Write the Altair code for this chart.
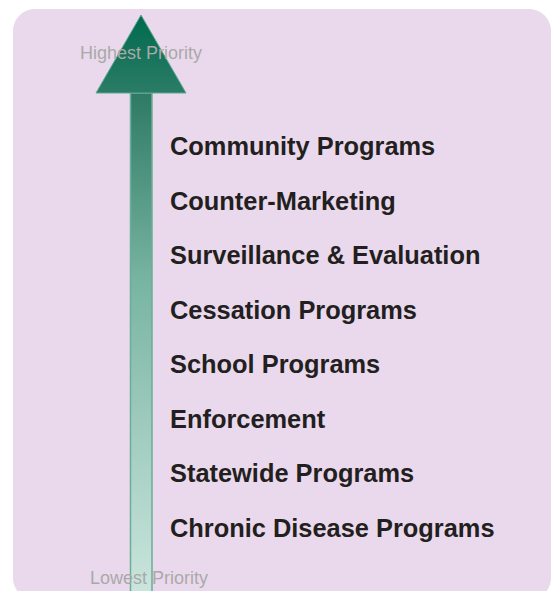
import altair as alt
import pandas as pd

# ---- data ----
labels = [
    "Community Programs",
    "Counter-Marketing",
    "Surveillance & Evaluation",
    "Cessation Programs",
    "School Programs",
    "Enforcement",
    "Statewide Programs",
    "Chronic Disease Programs",
]
ranks = [8, 7, 6, 5, 4, 3, 2, 1]
end_labels = ["Highest Priority", "Lowest Priority"]

# ---- layout (chart units: x in px, y in priority rank units) ----
W, H = 543, 583
Y_TOP, Y_BOTTOM = 10.529, -0.154

xs = alt.Scale(domain=[0, W], nice=False, zero=False)
ys = alt.Scale(domain=[Y_BOTTOM, Y_TOP], nice=False, zero=False)

def X(f="x"):
    return alt.X(f"{f}:Q", scale=xs, axis=None)

def Y(f="y"):
    return alt.Y(f"{f}:Q", scale=ys, axis=None)

bg_df = pd.DataFrame({"x": [5], "x2": [543], "y": [10.511], "y2": [-0.32]})
background = alt.Chart(bg_df).mark_rect(cornerRadius=22, fill="#ead9ec").encode(
    x=X(), x2="x2:Q", y=Y(), y2="y2:Q"
)

shaft_grad = alt.LinearGradient(
    gradient="linear",
    stops=[
        alt.GradientStop(color="#2e7a64", offset=0),
        alt.GradientStop(color="#78b4a2", offset=0.37),
        alt.GradientStop(color="#cce6de", offset=1),
    ],
    x1=0, x2=0, y1=0, y2=1,
)
shaft_df = pd.DataFrame({"x": [122.5], "x2": [144], "y": [8.971], "y2": [-0.30]})
shaft = alt.Chart(shaft_df).mark_rect(
    fill=shaft_grad, stroke="#6aae98", strokeWidth=1.5
).encode(x=X(), x2="x2:Q", y=Y(), y2="y2:Q")

head_grad = alt.LinearGradient(
    gradient="linear",
    stops=[
        alt.GradientStop(color="#006a4e", offset=0),
        alt.GradientStop(color="#2b7c66", offset=1),
    ],
    x1=0, x2=0, y1=0, y2=1,
)
head_df = pd.DataFrame({"y": [10.401, 8.971], "x": [133, 88], "x2": [133, 178]})
head = alt.Chart(head_df).mark_area(
    orient="horizontal", fill=head_grad, stroke="#5fa893", strokeWidth=1
).encode(y=Y(), x=X(), x2="x2:Q")

lab_df = pd.DataFrame({"label": labels, "y": ranks, "x": [162] * len(labels)})
text = alt.Chart(lab_df).mark_text(
    align="left", baseline="middle", font="Liberation Sans", fontSize=25.4,
    fontWeight="bold", color="#231f20", dy=1
).encode(x=X(), y=Y(), text="label:N")

end_df = pd.DataFrame({"label": end_labels, "x": [133, 141], "y": [9.69, 0.066]})
end_text = alt.Chart(end_df).mark_text(
    align="center", baseline="middle", font="Liberation Sans", fontSize=18,
    color="#a9a9a9"
).encode(x=X(), y=Y(), text="label:N")

chart = alt.layer(background, shaft, head, text, end_text).properties(
    width=W, height=H, padding=0, autosize=alt.AutoSizeParams(type="none")
).configure_view(stroke=None)

chart.save("out.html", embed_options={"renderer": "svg", "actions": False})
